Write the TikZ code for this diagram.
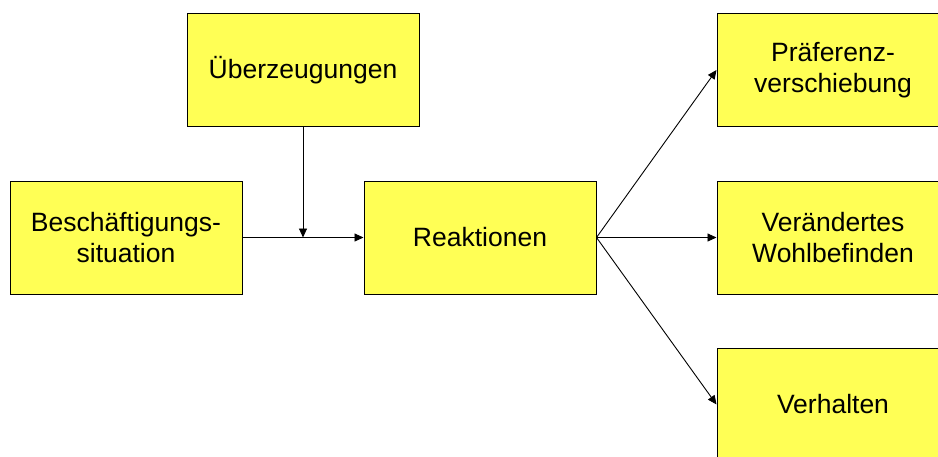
\documentclass[tikz,border=0pt]{standalone}
\usepackage{fontspec}
\setmainfont{Liberation Sans}
\usetikzlibrary{arrows.meta}
\begin{document}
\begin{tikzpicture}[x=1pt,y=-1pt,
  box/.style={draw=black,line width=1pt,fill=boxyellow,minimum width=232pt,minimum height=113pt,inner sep=0pt,align=center,font=\fontsize{26.5}{31}\selectfont},
  conn/.style={line width=0.9pt,-{Triangle[length=9pt,width=8pt]}}]
\definecolor{boxyellow}{RGB}{255,255,85}
\useasboundingbox (0,0) rectangle (938,456);
\clip (0,0) rectangle (938,456);
\node[box] (besch) at (126,237.5) {Beschäftigungs-\\situation};
\node[box] (ueber) at (303,70) {Überzeugungen};
\node[box] (reak) at (480,237.5) {Reaktionen};
\node[box] (pref) at (833,70) {Präferenz-\\verschiebung};
\node[box] (wohl) at (833,237.5) {Verändertes\\Wohlbefinden};
\node[box] (verh) at (833,404.5) {Verhalten};
\coordinate (join) at (303,237.5);
\draw[line width=0.9pt] (besch.east) -- (join);
\draw[conn] (join) -- (reak.west);
\draw[conn] (ueber.south) -- (join);
\draw[conn] (reak.east) -- (pref.west);
\draw[conn] (reak.east) -- (wohl.west);
\draw[conn] (reak.east) -- (verh.west);
\end{tikzpicture}
\end{document}
